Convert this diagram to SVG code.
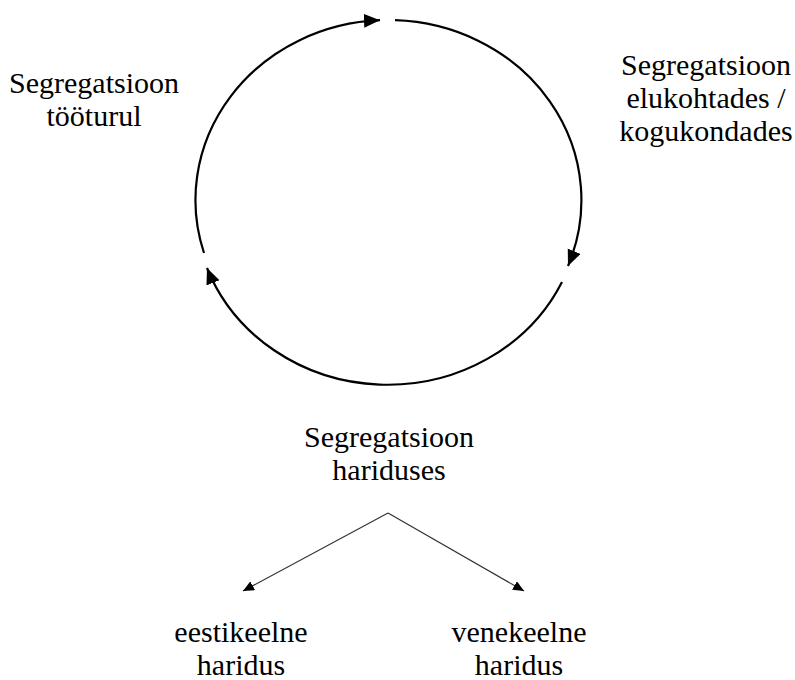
<svg xmlns="http://www.w3.org/2000/svg" width="795" height="680" viewBox="0 0 795 680">
<style>
.cyc{fill:none;stroke:#000;stroke-width:2.2}
.br{fill:none;stroke:#333;stroke-width:1.2}
</style>
<defs>
<marker id="big" markerUnits="userSpaceOnUse" markerWidth="17" markerHeight="15" refX="16" refY="7" orient="auto" viewBox="0 0 17 15">
<path d="M0,0 L16,7 L0,14 z" fill="#000"/>
</marker>
<marker id="small" markerUnits="userSpaceOnUse" markerWidth="12" markerHeight="10" refX="11" refY="5" orient="auto" viewBox="0 0 12 10">
<path d="M0,0 L11,5 L0,10 z" fill="#000"/>
</marker>
</defs>
<rect width="795" height="680" fill="#fff"/>
<g id="connectors">
<path class="cyc" d="M395,20.2 A193,180 0 0 1 568,266" marker-end="url(#big)"/>
<path class="cyc" d="M562,282 A193,180 0 0 1 207,268" marker-end="url(#big)"/>
<path class="cyc" d="M204,253 A193,180 0 0 1 380,20.2" marker-end="url(#big)"/>
<path class="br" d="M388,513 L243,591" marker-end="url(#small)"/>
<path class="br" d="M388,513 L524,591" marker-end="url(#small)"/>
</g>
<g font-family="Liberation Serif" font-size="30" text-anchor="middle" fill="#000">
<g id="tooturg">
<text x="94" y="93">Segregatsioon</text>
<text x="94" y="126">tööturul</text>
</g>
<g id="elukohad">
<text x="706" y="75">Segregatsioon</text>
<text x="706" y="108">elukohtades /</text>
<text x="706" y="141">kogukondades</text>
</g>
<g id="haridus">
<text x="389" y="447">Segregatsioon</text>
<text x="389" y="480">hariduses</text>
</g>
<g id="eesti">
<text x="241" y="642">eestikeelne</text>
<text x="241" y="675">haridus</text>
</g>
<g id="vene">
<text x="519" y="642">venekeelne</text>
<text x="519" y="675">haridus</text>
</g>
</g>
</svg>
